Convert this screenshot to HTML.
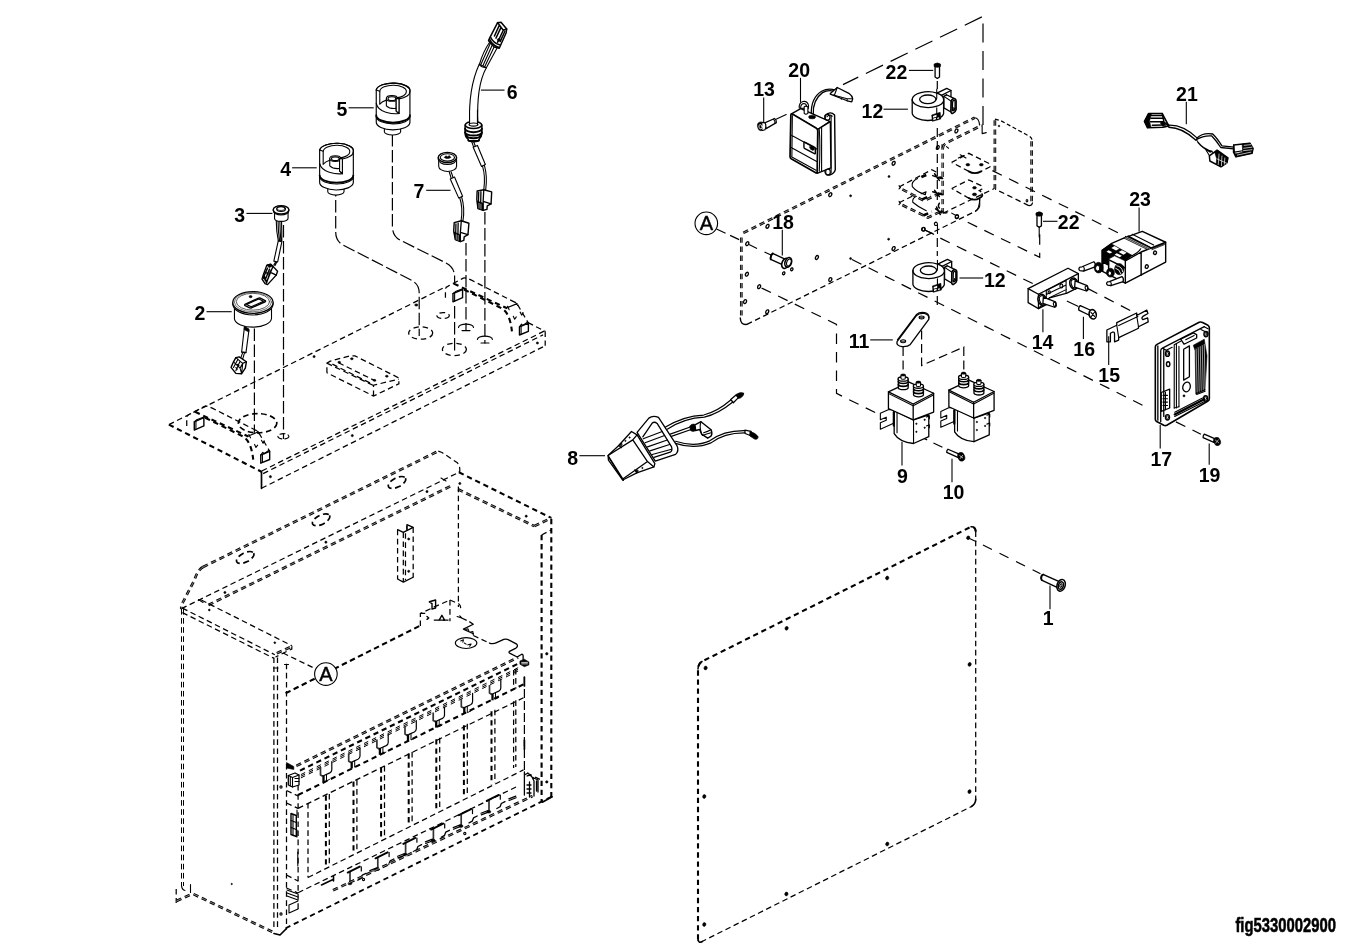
<!DOCTYPE html>
<html><head><meta charset="utf-8">
<style>
html,body{margin:0;padding:0;background:#fff;}
svg{display:block;filter:grayscale(1);}
svg *{vector-effect:non-scaling-stroke;}
.s{fill:none;stroke:#000;stroke-width:1.1;stroke-linecap:round;stroke-linejoin:round;}
.sf{fill:#fff;stroke:#000;stroke-width:1.1;stroke-linecap:round;stroke-linejoin:round;}
.t{fill:none;stroke:#000;stroke-width:1.7;stroke-linecap:round;stroke-linejoin:round;}
.tf{fill:#fff;stroke:#000;stroke-width:1.7;stroke-linecap:round;stroke-linejoin:round;}
.k{fill:#000;stroke:#000;stroke-width:0.6;}
.w{fill:#fff;stroke:none;}
.d{fill:none;stroke:#000;stroke-width:1.25;stroke-dasharray:5.6 3.5;}
.d2{fill:none;stroke:#000;stroke-width:1.25;stroke-dasharray:5.6 3.5;}
.dk{fill:none;stroke:#000;stroke-width:2.1;stroke-dasharray:5.3 3.8;}
.dm{fill:none;stroke:#000;stroke-width:1.7;stroke-dasharray:5.6 3.5;}
.c{fill:none;stroke:#000;stroke-width:1.2;stroke-dasharray:12.5 3.5;}
.c2{fill:none;stroke:#000;stroke-width:1.2;stroke-dasharray:10 8.5;}
.ddb{fill:none;stroke:#000;stroke-width:2.65;stroke-dasharray:5.4 3.7;}
.ddw{fill:none;stroke:#fff;stroke-width:0.5;}
.l{fill:none;stroke:#000;stroke-width:1.1;}
text{font-family:"Liberation Sans",sans-serif;font-weight:bold;font-size:19.5px;fill:#000;text-anchor:middle;}
</style></head><body>
<svg width="1346" height="948" viewBox="0 0 1346 948">
<rect class="w" x="0" y="0" width="1346" height="948"/>
<g id="tray">
<!-- main outline -->
<path class="d" d="M168.9 424.6L446 286.6"/>
<path class="dk" d="M168.9 424.6L261.5 471.8"/>
<path class="t" d="M261.5 471.8V488.3"/>
<path class="d2" d="M261.8 471L545.2 330.6M263.1 473.6L543 334.9"/>
<path class="d" d="M261.5 488.3L545.2 345.7"/>
<path class="d2" d="M545.2 331.3V345.7"/>
<path class="d" d="M528 322.6L545.2 331.3"/>
<circle class="k" cx="270.4" cy="476.7" r="1.1"/>
<circle class="k" cx="352.3" cy="435.6" r="1.1"/>
<circle class="k" cx="537.4" cy="343" r="1.1"/>
<circle class="k" cx="314.1" cy="356.6" r="1.1"/>
<ellipse class="k" cx="416.3" cy="305" rx="1.6" ry="1.1"/>
<!-- holes -->
<ellipse class="dm" cx="257.6" cy="423.2" rx="19.2" ry="9.6"/>
<ellipse class="s" cx="283.4" cy="436.3" rx="5.5" ry="2.7" style="stroke-dasharray:5 3"/>
<ellipse class="d2" cx="443.1" cy="315.5" rx="6.2" ry="3"/>
<ellipse class="dk" cx="420.7" cy="333" rx="12" ry="6.2" style="stroke-width:1.3"/>
<ellipse class="dk" cx="454.4" cy="349.4" rx="12" ry="6.2" style="stroke-width:1.3"/>
<path class="s" d="M458.5 327.5A7.5 3.4 0 0 1 473.5 327.5M462 330.6H470"/>
<path class="s" d="M477.4 339.5A7.5 3.4 0 0 1 492.4 339.5M481 343H489"/>
<!-- centre block -->
<g transform="translate(270 320) scale(0.1371)">
<path class="d2" d="M415 385V315L440 300L580 262H620L935 420L940 440V465L755 555L415 385M755 555V475L940 432M415 315L755 478"/>
<path class="d2" d="M455 322L735 462M500 312L770 445"/>
<ellipse class="k" cx="505" cy="308" rx="10" ry="7"/><ellipse class="k" cx="597" cy="283" rx="10" ry="7"/>
<ellipse class="k" cx="762" cy="440" rx="10" ry="7"/><ellipse class="k" cx="852" cy="410" rx="10" ry="7"/>
</g>
<!-- brackets -->
<g id="brk" transform="translate(160 380) scale(0.1371)">
<path class="d2" d="M195 335V270Q197 258 215 250L325 192Q340 186 385 207L715 375L800 520"/>
<path class="dk" d="M255 232L645 412"/>
<path class="dk" d="M330 275L605 412Q665 445 680 580"/>
<path class="s" d="M640 410L718 378M648 398L660 422M705 368L722 392"/>
<path class="s" d="M740 440L752 462L762 445M690 470L700 492L712 475"/>
<path class="sf" style="stroke-width:1.4" d="M250 305L320 275V335L250 365Z"/><path class="s" d="M250 305L268 290L325 268L320 275M262 300V360"/>
<path class="sf" style="stroke-width:1.4" d="M735 547L800 520V580L735 607Z"/><path class="s" d="M735 547L750 528L760 538L790 515L800 520M747 542V602"/>
</g>
<use href="#brk" x="0" y="0" transform="translate(258.7 -128.2)"/>
<!-- assembly lines -->
<path class="c" d="M254.4 328.5V432.8"/>
<path class="c" d="M283.5 225V439"/>
<path class="c" d="M335.7 184V232Q335.7 241 343 245L411 280Q419.2 284 419.2 293V336"/>
<path class="c" d="M392.4 134V226Q392.4 236 400 240L446 263Q454.6 267.5 454.6 277V282M454.6 306V351"/>
<path class="c" d="M466 243V331"/>
<path class="c" d="M484.9 212V343.5"/>
</g>

<g id="item2" transform="translate(220 280) scale(0.10554)">
<!-- wire -->
<path class="sf" d="M232 440L205 682L246 688L274 478Z"/>
<path class="k" d="M232 440L228 470L272 492L276 465Z"/>
<path class="s" d="M215 688L192 750M232 690L212 760M205 682L246 688"/>
<!-- connector -->
<path class="sf" style="stroke-width:1.4" d="M150 735L182 728L250 775L240 835L205 888L150 885L105 828L128 775Z"/>
<path class="s" d="M150 735L215 790L250 775M215 790L205 888M128 775L190 835L205 888M170 750L128 830M190 770L150 860M190 835L215 790M165 800L180 812M150 830L165 845"/>
<!-- body -->
<path class="sf" d="M137 250V370A176 85 0 0 0 488 365V250Z"/>
<path class="sf" d="M121 228A191 103 0 0 0 503 228V213H121Z"/>
<ellipse class="sf" style="stroke-width:1.3" cx="312" cy="213" rx="191" ry="103"/>
<ellipse class="s" style="stroke-width:0.7;stroke:#444" cx="312" cy="209" rx="176" ry="92"/>
<ellipse class="s" style="stroke-width:0.8;stroke:#333" cx="312" cy="206" rx="158" ry="80"/>
<path class="s" style="stroke-width:1.4" d="M236 232L366 172Q374 168 382 172L428 196Q436 201 428 206L298 264Q290 268 282 263L238 242Q230 237 236 232Z"/>
<path class="s" d="M252 232L368 180L412 201L296 254Z"/>
<ellipse class="k" cx="290" cy="158" rx="14" ry="10"/>
</g>

<g id="item3" transform="translate(250 195) scale(0.10017)">
<path class="s" d="M262 255Q262 360 283 460M280 262Q280 360 296 460M298 268Q300 360 308 460M315 270Q318 370 318 462"/>
<path class="sf" d="M282 458L318 466L276 668L238 660Z"/>
<path class="s" d="M255 668L238 700M268 670L250 705"/>
<path class="sf" style="stroke-width:1.4" d="M168 700L205 690L232 715L275 762L262 800L175 895L150 885L120 840L135 790Z"/>
<path class="s" style="stroke-width:1.4" d="M232 715L200 770L262 800M200 770L165 880M175 730L135 820M195 740L150 850M215 745L170 860M140 800L165 880M150 770L190 790M135 830L160 850"/>
<path class="k" d="M168 700L205 690L225 712L190 725Z"/>
<path class="sf" d="M245 165V235A67 30 0 0 0 380 232V165Z"/>
<path class="sf" d="M232 158A78 42 0 0 0 388 158V148H232Z"/>
<ellipse class="sf" style="stroke-width:1.4" cx="310" cy="148" rx="78" ry="42"/>
<ellipse class="s" cx="310" cy="140" rx="44" ry="24"/>
<ellipse class="s" style="stroke-width:0.8" cx="310" cy="134" rx="40" ry="20"/>
</g>

<g id="knob" transform="translate(360 70) scale(0.07385)">
<path class="sf" d="M330 790V835A110 45 0 0 0 550 835V790Z"/>
<path class="sf" style="stroke-width:1.15" d="M220 270V705A228 103 0 0 0 676 710V290A228 102 0 0 0 220 270Z"/>
<path class="s" style="stroke-width:1.8" d="M220 612A228 100 0 0 0 676 612"/>
<path class="s" d="M220 632A228 100 0 0 0 676 628"/>
<!-- outer top ellipse from left over top to cut -->
<path class="s" style="stroke-width:1.15" d="M220 270A228 102 0 0 1 676 290A228 104 0 0 1 528 391"/>
<!-- inner ellipse -->
<path class="s" d="M268 287A180 85 0 0 1 628 295A180 85 0 0 1 490 378"/>
<path class="s" d="M220 270L268 287V458M490 378L528 391V590L490 556V395"/>
<path class="s" d="M220 452Q240 540 350 572Q450 600 528 590"/>
<path class="s" d="M268 462Q300 425 356 408"/>
<path class="s" d="M357 385V485Q400 528 490 520"/>
<ellipse class="sf" cx="432" cy="385" rx="75" ry="38"/>
<ellipse class="s" cx="432" cy="388" rx="52" ry="25"/>
<path class="w" d="M491 396H527V560H491Z"/>
<path class="s" d="M490 378L528 391V590L490 556Z"/>
</g>
<use href="#knob" transform="translate(-56.6 60.1)"/>

<g id="item6top" transform="translate(440 10) scale(0.12658)">
<path class="s" d="M322 432L398 262M338 442L415 272M352 450L432 282M366 456L452 298M312 428Q340 330 392 255"/>
<path class="sf" d="M235 900Q222 620 310 428L366 456Q285 600 300 900Z"/>
<path class="s" d="M310 428Q318 452 366 456"/>
<path class="sf" style="stroke-width:1.5" d="M392 222L455 100L482 96L527 150L522 182L468 302L428 292L384 242Z"/>
<path class="s" style="stroke-width:1.5" d="M455 100L500 160L527 150M500 160L455 255M470 118L430 205M483 135L442 222M512 170L475 250M400 215Q420 260 470 275M392 232Q415 280 466 296"/>
<path class="k" d="M452 232L470 222L478 240L460 250Z"/>
</g>
<g id="item67" transform="translate(430 110) scale(0.15817)">
<!-- 6 lower -->
<path class="s" d="M262 195L276 235M274 195L288 232"/>
<path class="sf" d="M273 236L300 224L350 345L326 357Z"/>
<path class="s" d="M332 355Q352 420 340 505M344 350Q364 420 352 505"/>
<path class="sf" style="stroke-width:1.4" d="M298 512L340 504L390 518L386 594L362 606L360 628L336 635L303 623L296 566Z"/>
<path class="s" style="stroke-width:1.3" d="M340 504L336 578L386 594M336 578V635M308 520L306 604M322 516L320 612"/>
<path class="k" d="M298 575L336 590V634L304 622Z"/>
<path class="s" style="stroke:#fff;stroke-width:0.6" d="M310 590V620M322 595V625"/>
<path class="sf" style="stroke-width:1.5" d="M222 95V150Q225 175 242 185V195H310V185Q325 175 328 150V95Z"/>
<ellipse class="sf" style="stroke-width:1.6" cx="275" cy="95" rx="52" ry="22"/>
<path class="w" d="M250 0H300V92H250Z"/>
<path class="s" d="M250 0V88M300 0V92"/>
<ellipse class="s" cx="275" cy="92" rx="28" ry="10"/>
<path class="s" style="stroke-width:2" d="M222 118A53 22 0 0 0 328 118M222 140A53 22 0 0 0 328 140M228 162A48 20 0 0 0 322 162"/>
<path class="s" style="stroke-width:1.5" d="M242 188A34 12 0 0 0 310 188"/>
<!-- 7 -->
<path class="s" d="M122 392L134 432M134 392L146 428"/>
<path class="sf" d="M128 436L155 424L206 545L182 557Z"/>
<path class="s" d="M188 555Q210 620 196 705M200 550Q222 620 208 702"/>
<path class="sf" style="stroke-width:1.4" d="M153 712L198 700L246 716L240 788L216 802L214 824L192 832L160 820L150 765Z"/>
<path class="s" style="stroke-width:1.3" d="M198 700L192 774L240 788M192 774V832M164 720L162 802M178 716L176 810"/>
<path class="k" d="M152 772L192 788V831L160 820Z"/>
<path class="s" style="stroke:#fff;stroke-width:0.6" d="M166 788V818M178 793V823"/>
<path class="sf" d="M55 315V355A54 32 0 0 0 168 355V315Z"/>
<path class="sf" d="M52 312A58 32 0 0 0 168 312V300H52Z"/>
<ellipse class="sf" style="stroke-width:1.4" cx="110" cy="300" rx="58" ry="32"/>
<ellipse class="s" cx="110" cy="300" rx="45" ry="23"/>
<path class="k" d="M90 300L100 290L112 296L122 288L132 300L118 306L102 306Z"/>
</g>

<g id="cabinet">
<path class="ddb" d="M203 567L438.3 451.1"/><path class="ddw" d="M203 567L438.3 451.1"/>
<path class="ddb" d="M203 567Q197.5 570 194 581L182.5 603Q181 606 181.3 609"/><path class="ddw" d="M203 567Q197.5 570 194 581L182.5 603Q181 606 181.3 609"/>
<path class="d" d="M438.3 451.1L442 452.5L457 462.5Q460 465 459.8 471L458.9 472.3"/>
<path class="d" d="M181.5 608.6L458.9 472.3"/>
<path class="ddb" d="M208.4 605L453.5 484.8"/><path class="ddw" d="M208.4 605L453.5 484.8"/>
<path class="dk" d="M458.9 472.3L551.3 518"/>
<path class="ddb" d="M458 489.3L534.3 526.1"/><path class="ddw" d="M458 489.3L534.3 526.1"/>
<path class="ddb" d="M534.3 526.1L551.3 518"/><path class="ddw" d="M534.3 526.1L551.3 518"/>
<path class="s" d="M198.5 599.5L203 602.5M441 478L446 481"/>
<ellipse class="dm" style="stroke-dasharray:6 3.5" cx="245.2" cy="557.5" rx="9.5" ry="4.6" transform="rotate(-27 245.2 557.5)"/>
<ellipse class="dm" style="stroke-dasharray:6 3.5" cx="321.1" cy="519.8" rx="9.5" ry="4.6" transform="rotate(-27 321.1 519.8)"/>
<ellipse class="dm" style="stroke-dasharray:6 3.5" cx="397.0" cy="482.5" rx="9.5" ry="4.6" transform="rotate(-27 397.0 482.5)"/>
<circle class="k" cx="224.9" cy="592.5" r="1.1"/>
<circle class="k" cx="325.9" cy="542.2" r="1.1"/>
<circle class="k" cx="427.0" cy="491.6" r="1.1"/>
<circle class="k" cx="459.8" cy="483.5" r="1.1"/>
<circle class="k" cx="526.2" cy="516.2" r="1.1"/>
<path class="dk" d="M551.3 519V797"/>
<path class="dk" d="M541.6 535V802"/>
<path class="d2" d="M541.6 535L551 530"/>
<circle class="k" cx="546.8" cy="653.8" r="1.2"/><circle class="k" cx="546.8" cy="781.9" r="1.2"/>
<path class="d2" d="M458.4 486.6V607"/>
<path class="d2" style="stroke-width:1" d="M181.5 609V886M183.5 609V886"/>
<path class="s" d="M181.5 885.6Q182 890 185 890.5M190.5 884.5V892.5"/>
<path class="d2" d="M182.4 608.1L274.8 654.7M182.4 612.6L273.9 658.3"/>
<path class="d" d="M201.3 600L291.8 645.7"/>
<path class="d2" d="M291.8 645.7V649L275.5 657"/>
<path class="ddb" d="M276.8 653.2L291.8 646.5"/><path class="ddw" d="M276.8 653.2L291.8 646.5"/>
<circle class="k" cx="209.3" cy="610" r="0.9"/><circle class="k" cx="274.8" cy="642.7" r="0.9"/>
<path class="d2" d="M273.9 657.4V927M277.5 657.4V927"/>
<path class="d2" d="M286.5 663.7V929.5"/>
<path class="s" d="M273.5 668H278M284.5 664.5H288.5"/>
<circle class="s" cx="281" cy="787" r="1.1"/><circle class="s" cx="281" cy="914" r="1.1"/>
<path class="dk" style="stroke-dasharray:5.5 3.5" d="M285.6 693.3L421.3 625.1"/>
<path class="d" d="M283 653L318 670"/>
<path class="d2" d="M176.2 889V903"/>
<path class="ddb" d="M176.5 901L193 893.5"/><path class="ddw" d="M176.5 901L193 893.5"/>
<path class="ddb" d="M193.5 894.1L273.7 932.5"/><path class="ddw" d="M193.5 894.1L273.7 932.5"/>
<circle class="k" cx="231.7" cy="884" r="0.7"/>
<path class="dk" style="stroke-width:1.8" d="M285.6 928.2L552.2 796.4"/>
<path class="t" d="M274 933.5L280 935L286 929"/>
<path class="ddb" d="M296.3 765.9L518.1 657.4"/><path class="ddw" d="M296.3 765.9L518.1 657.4"/>
<path class="dk" d="M300 770.6L521.7 661.9"/>
<path class="s" style="stroke-width:1;stroke-linecap:butt" d="M300.9 774.6l4.2 -2.1M300.9 776.2l4.2 -2.1M300.9 777.9l4.2 -2.1"/>
<path class="s" style="stroke-width:1;stroke-linecap:butt" d="M308.8 770.7l4.2 -2.1M308.8 772.4l4.2 -2.1M308.8 774.0l4.2 -2.1"/>
<path class="s" style="stroke-width:1;stroke-linecap:butt" d="M316.7 766.8l4.2 -2.1M316.7 768.5l4.2 -2.1M316.7 770.1l4.2 -2.1"/>
<path class="s" style="stroke-width:1;stroke-linecap:butt" d="M324.6 763.0l4.2 -2.1M324.6 764.6l4.2 -2.1M324.6 766.3l4.2 -2.1"/>
<path class="s" style="stroke-width:1;stroke-linecap:butt" d="M332.5 759.1l4.2 -2.1M332.5 760.7l4.2 -2.1M332.5 762.4l4.2 -2.1"/>
<path class="s" style="stroke-width:1;stroke-linecap:butt" d="M340.3 755.2l4.2 -2.1M340.3 756.8l4.2 -2.1M340.3 758.5l4.2 -2.1"/>
<path class="s" style="stroke-width:1;stroke-linecap:butt" d="M348.2 751.3l4.2 -2.1M348.2 753.0l4.2 -2.1M348.2 754.6l4.2 -2.1"/>
<path class="s" style="stroke-width:1;stroke-linecap:butt" d="M356.1 747.4l4.2 -2.1M356.1 749.1l4.2 -2.1M356.1 750.7l4.2 -2.1"/>
<path class="s" style="stroke-width:1;stroke-linecap:butt" d="M364.0 743.5l4.2 -2.1M364.0 745.2l4.2 -2.1M364.0 746.8l4.2 -2.1"/>
<path class="s" style="stroke-width:1;stroke-linecap:butt" d="M371.9 739.7l4.2 -2.1M371.9 741.3l4.2 -2.1M371.9 743.0l4.2 -2.1"/>
<path class="s" style="stroke-width:1;stroke-linecap:butt" d="M379.8 735.8l4.2 -2.1M379.8 737.4l4.2 -2.1M379.8 739.1l4.2 -2.1"/>
<path class="s" style="stroke-width:1;stroke-linecap:butt" d="M387.7 731.9l4.2 -2.1M387.7 733.6l4.2 -2.1M387.7 735.2l4.2 -2.1"/>
<path class="s" style="stroke-width:1;stroke-linecap:butt" d="M395.6 728.0l4.2 -2.1M395.6 729.7l4.2 -2.1M395.6 731.3l4.2 -2.1"/>
<path class="s" style="stroke-width:1;stroke-linecap:butt" d="M403.5 724.1l4.2 -2.1M403.5 725.8l4.2 -2.1M403.5 727.4l4.2 -2.1"/>
<path class="s" style="stroke-width:1;stroke-linecap:butt" d="M411.3 720.3l4.2 -2.1M411.3 721.9l4.2 -2.1M411.3 723.6l4.2 -2.1"/>
<path class="s" style="stroke-width:1;stroke-linecap:butt" d="M419.2 716.4l4.2 -2.1M419.2 718.0l4.2 -2.1M419.2 719.7l4.2 -2.1"/>
<path class="s" style="stroke-width:1;stroke-linecap:butt" d="M427.1 712.5l4.2 -2.1M427.1 714.1l4.2 -2.1M427.1 715.8l4.2 -2.1"/>
<path class="s" style="stroke-width:1;stroke-linecap:butt" d="M435.0 708.6l4.2 -2.1M435.0 710.3l4.2 -2.1M435.0 711.9l4.2 -2.1"/>
<path class="s" style="stroke-width:1;stroke-linecap:butt" d="M442.9 704.7l4.2 -2.1M442.9 706.4l4.2 -2.1M442.9 708.0l4.2 -2.1"/>
<path class="s" style="stroke-width:1;stroke-linecap:butt" d="M450.8 700.9l4.2 -2.1M450.8 702.5l4.2 -2.1M450.8 704.2l4.2 -2.1"/>
<path class="s" style="stroke-width:1;stroke-linecap:butt" d="M458.7 697.0l4.2 -2.1M458.7 698.6l4.2 -2.1M458.7 700.3l4.2 -2.1"/>
<path class="s" style="stroke-width:1;stroke-linecap:butt" d="M466.6 693.1l4.2 -2.1M466.6 694.7l4.2 -2.1M466.6 696.4l4.2 -2.1"/>
<path class="s" style="stroke-width:1;stroke-linecap:butt" d="M474.5 689.2l4.2 -2.1M474.5 690.9l4.2 -2.1M474.5 692.5l4.2 -2.1"/>
<path class="s" style="stroke-width:1;stroke-linecap:butt" d="M482.3 685.3l4.2 -2.1M482.3 687.0l4.2 -2.1M482.3 688.6l4.2 -2.1"/>
<path class="s" style="stroke-width:1;stroke-linecap:butt" d="M490.2 681.4l4.2 -2.1M490.2 683.1l4.2 -2.1M490.2 684.7l4.2 -2.1"/>
<path class="s" style="stroke-width:1;stroke-linecap:butt" d="M498.1 677.6l4.2 -2.1M498.1 679.2l4.2 -2.1M498.1 680.9l4.2 -2.1"/>
<path class="s" style="stroke-width:1;stroke-linecap:butt" d="M506.0 673.7l4.2 -2.1M506.0 675.3l4.2 -2.1M506.0 677.0l4.2 -2.1"/>
<path class="s" style="stroke-width:1;stroke-linecap:butt" d="M513.9 669.8l4.2 -2.1M513.9 671.4l4.2 -2.1M513.9 673.1l4.2 -2.1"/>
<path class="dk" d="M298.1 795L523.5 684.3"/>
<path class="d" d="M298.1 808.4L523.5 697.8"/>
<path class="s" style="stroke-width:1.2" d="M500.8 679.7V687.9Q500.8 690.1 498.8 691.1L493.5 693.5"/>
<path class="s" style="stroke-width:1.7;stroke:#333;stroke-linecap:butt" d="M489.5 685.1V693.1L491.8 694.5"/>
<path class="s" style="stroke-width:2.3;stroke-linecap:butt" d="M492.5 693.3V700.3"/>
<path class="s" style="stroke-width:1" d="M495.5 692.9V699.1L498.5 697.6"/>
<path class="s" style="stroke-width:1.2" d="M472.6 693.3V701.5Q472.6 703.7 470.6 704.7L465.3 707.1"/>
<path class="s" style="stroke-width:1.7;stroke:#333;stroke-linecap:butt" d="M461.3 698.7V706.7L463.6 708.1"/>
<path class="s" style="stroke-width:2.3;stroke-linecap:butt" d="M464.3 706.9V713.9"/>
<path class="s" style="stroke-width:1" d="M467.3 706.5V712.7L470.3 711.2"/>
<path class="s" style="stroke-width:1.2" d="M444.5 707.0V715.2Q444.5 717.4 442.5 718.4L437.2 720.8"/>
<path class="s" style="stroke-width:1.7;stroke:#333;stroke-linecap:butt" d="M433.2 712.4V720.4L435.5 721.8"/>
<path class="s" style="stroke-width:2.3;stroke-linecap:butt" d="M436.2 720.6V727.6"/>
<path class="s" style="stroke-width:1" d="M439.2 720.2V726.4L442.2 724.9"/>
<path class="s" style="stroke-width:1.2" d="M416.3 720.6V728.8Q416.3 731.0 414.3 732.0L409.0 734.4"/>
<path class="s" style="stroke-width:1.7;stroke:#333;stroke-linecap:butt" d="M405.0 726.0V734.0L407.3 735.4"/>
<path class="s" style="stroke-width:2.3;stroke-linecap:butt" d="M408.0 734.2V741.2"/>
<path class="s" style="stroke-width:1" d="M411.0 733.8V740.0L414.0 738.5"/>
<path class="s" style="stroke-width:1.2" d="M388.2 734.2V742.4Q388.2 744.6 386.2 745.6L380.9 748.0"/>
<path class="s" style="stroke-width:1.7;stroke:#333;stroke-linecap:butt" d="M376.9 739.6V747.6L379.2 749.0"/>
<path class="s" style="stroke-width:2.3;stroke-linecap:butt" d="M379.9 747.8V754.8"/>
<path class="s" style="stroke-width:1" d="M382.9 747.4V753.6L385.9 752.1"/>
<path class="s" style="stroke-width:1.2" d="M360.0 747.9V756.1Q360.0 758.2 358.0 759.2L352.7 761.6"/>
<path class="s" style="stroke-width:1.7;stroke:#333;stroke-linecap:butt" d="M348.7 753.2V761.2L351.0 762.6"/>
<path class="s" style="stroke-width:2.3;stroke-linecap:butt" d="M351.7 761.5V768.5"/>
<path class="s" style="stroke-width:1" d="M354.7 761.1V767.2L357.7 765.8"/>
<path class="s" style="stroke-width:1.2" d="M331.8 761.5V769.7Q331.8 771.9 329.8 772.9L324.5 775.3"/>
<path class="s" style="stroke-width:1.7;stroke:#333;stroke-linecap:butt" d="M320.5 766.9V774.9L322.8 776.3"/>
<path class="s" style="stroke-width:2.3;stroke-linecap:butt" d="M323.5 775.1V782.1"/>
<path class="s" style="stroke-width:1" d="M326.5 774.7V780.9L329.5 779.4"/>
<path class="dk" style="stroke-width:2" d="M491.5 711.2V784.2"/>
<path class="d2" d="M494.9 709.7V782.7"/>
<path class="dk" style="stroke-width:2" d="M463.9 725.2V798.1"/>
<path class="d2" d="M467.3 723.8V796.6"/>
<path class="dk" style="stroke-width:2" d="M436.3 739.3V812.0"/>
<path class="d2" d="M439.7 737.8V810.5"/>
<path class="dk" style="stroke-width:2" d="M408.7 753.4V825.9"/>
<path class="d2" d="M412.1 751.9V824.4"/>
<path class="dk" style="stroke-width:2" d="M381.1 767.4V839.8"/>
<path class="d2" d="M384.5 765.9V838.3"/>
<path class="dk" style="stroke-width:2" d="M353.5 781.5V853.7"/>
<path class="d2" d="M356.9 780.0V852.2"/>
<path class="dk" style="stroke-width:2" d="M325.9 795.5V867.6"/>
<path class="d2" d="M329.3 794.0V866.1"/>
<path class="d2" d="M513.6 670V689.7M515.8 669V688.7M513.6 701.3V768M515.8 700.3V767"/>
<path class="c" style="stroke-dasharray:9 3" d="M524.4 677V772"/>
<path class="t" d="M524.4 677V686M524.4 740V749"/>
<path class="d" d="M308 877.5L523.5 769.9"/>
<path class="d" d="M298.1 892.7L518.1 786"/>
<path class="t" style="stroke-width:1.6" d="M321.5 885L333 879.5M333.5 876.5V881"/>
<path class="s" style="stroke-width:1.7;stroke:#333;stroke-linecap:butt" d="M489.0 811.5V800.0"/>
<path class="s" style="stroke-width:1.9" d="M486.7 800.9L498.8 794.9"/>
<path class="s" style="stroke-width:1.2" d="M500.3 795.1V799.2"/>
<path class="s" style="stroke-width:1.3" d="M496.8 808.5L500.1 806.7L501.3 803.5L505.0 801.6"/>
<path class="s" style="stroke-width:1.2" d="M508.8 798.9L515.8 796.1M509.1 800.5L516.1 797.7"/>
<ellipse class="k" cx="488.8" cy="811.8" rx="2" ry="1.3"/>
<path class="s" style="stroke-width:1.7;stroke:#333;stroke-linecap:butt" d="M461.2 825.9V814.4"/>
<path class="s" style="stroke-width:1.9" d="M458.9 815.2L471.0 809.2"/>
<path class="s" style="stroke-width:1.2" d="M472.5 809.5V813.6"/>
<path class="s" style="stroke-width:1.3" d="M469.0 822.9L472.3 821.1L473.5 817.9L477.2 816.0"/>
<path class="s" style="stroke-width:1.2" d="M481.0 813.2L488.0 810.5M481.3 814.9L488.3 812.1"/>
<ellipse class="k" cx="461.0" cy="826.1" rx="2" ry="1.3"/>
<path class="s" style="stroke-width:1.7;stroke:#333;stroke-linecap:butt" d="M433.4 840.2V828.7"/>
<path class="s" style="stroke-width:1.9" d="M431.1 829.6L443.2 823.6"/>
<path class="s" style="stroke-width:1.2" d="M444.7 823.8V827.9"/>
<path class="s" style="stroke-width:1.3" d="M441.2 837.2L444.5 835.4L445.7 832.2L449.4 830.3"/>
<path class="s" style="stroke-width:1.2" d="M453.2 827.6L460.2 824.8M453.5 829.2L460.5 826.4"/>
<ellipse class="k" cx="433.2" cy="840.5" rx="2" ry="1.3"/>
<path class="s" style="stroke-width:1.7;stroke:#333;stroke-linecap:butt" d="M405.6 854.5V843.0"/>
<path class="s" style="stroke-width:1.9" d="M403.3 843.9L415.4 837.9"/>
<path class="s" style="stroke-width:1.2" d="M416.9 838.1V842.2"/>
<path class="s" style="stroke-width:1.3" d="M413.4 851.5L416.7 849.8L417.9 846.5L421.6 844.6"/>
<path class="s" style="stroke-width:1.2" d="M425.4 841.9L432.4 839.1M425.7 843.5L432.7 840.8"/>
<ellipse class="k" cx="405.4" cy="854.8" rx="2" ry="1.3"/>
<path class="s" style="stroke-width:1.7;stroke:#333;stroke-linecap:butt" d="M377.8 868.9V857.4"/>
<path class="s" style="stroke-width:1.9" d="M375.5 858.3L387.6 852.3"/>
<path class="s" style="stroke-width:1.2" d="M389.1 852.5V856.6"/>
<path class="s" style="stroke-width:1.3" d="M385.6 865.9L388.9 864.1L390.1 860.9L393.8 859.0"/>
<path class="s" style="stroke-width:1.2" d="M397.6 856.3L404.6 853.5M397.9 857.9L404.9 855.1"/>
<ellipse class="k" cx="377.6" cy="869.2" rx="2" ry="1.3"/>
<path class="s" style="stroke-width:1.7;stroke:#333;stroke-linecap:butt" d="M350.0 883.2V871.8"/>
<path class="s" style="stroke-width:1.9" d="M347.7 872.6L359.8 866.6"/>
<path class="s" style="stroke-width:1.2" d="M361.3 866.9V871.0"/>
<path class="s" style="stroke-width:1.3" d="M357.8 880.2L361.1 878.5L362.3 875.2L366.0 873.4"/>
<path class="s" style="stroke-width:1.2" d="M369.8 870.6L376.8 867.9M370.1 872.2L377.1 869.5"/>
<ellipse class="k" cx="349.8" cy="883.5" rx="2" ry="1.3"/>
<path class="ddb" d="M333 890.3L532.5 796.1"/><path class="ddw" d="M333 890.3L532.5 796.1"/>
<circle class="s" cx="464.8" cy="833.5" r="1.1"/><circle class="s" cx="363.5" cy="879.5" r="1.1"/>
<path class="d2" d="M298.1 785V909"/>
<path class="d2" d="M308 803V877.5"/>
<path class="d2" d="M286.5 790.5L298.1 796M286.5 803L298.1 808.4M286.5 875L298.1 881M286.5 888L298.1 893"/>
<path class="k" d="M286.5 762.5L293.8 766.5L293.8 769.5L286.5 768Z"/>
<path class="sf" style="stroke-width:1.3" d="M288.3 775.5L295 773L299 775V785L292.5 787L288.3 785Z"/><path class="s" d="M288.3 775.5L292.5 777.5L299 775M292.5 777.5V787M290.3 776.5V786M295 778.5H299M295 781.5H299"/>
<path class="sf" style="stroke-width:1.4" d="M291 813.5L296.3 815.5V836.5L291 834.5Z"/><path class="s" d="M291 820.5L296.3 822.5M291 827.5L296.3 829.5M293 814.5V835.5"/>
<path class="s" d="M297.8 852V866M297 810V815M297 830V837"/>
<path class="s" d="M287 890L298 894M287 893L298 897M287 896L298 900M289 905L298 901M289 905V913L298 909"/>
<path class="s" style="stroke-width:1.3" d="M524.4 772V795M527 776Q530 774 532 777L534 781V796M529.5 782V797M527 785H531M527 789H531M527 793H531M532 777L538 780V792M536.5 781V791M524.4 775L528 773"/>
<path class="dk" style="stroke-width:1.3" d="M527 773L541 780"/>
<path class="t" d="M542.3 802.2L552.2 796.8"/>
</g>

<g id="uchan" transform="translate(380 440) scale(0.17937)">
<path class="d2" d="M98 500V775M130 515V790M185 487V765M150 478V500"/>
<path class="s" style="stroke-width:1.3" d="M98 500L130 515L185 487L150 472V498M98 775L130 792L185 765"/>
<path class="d2" d="M142 520V780"/>
<circle class="k" cx="160" cy="552" r="6"/><circle class="k" cx="160" cy="732" r="6"/>
</g>
<g id="cabstep" transform="translate(380 600) scale(0.17937)">
<path class="d2" d="M225 145V75L300 40M390 0V118M300 112H390M225 75H252M300 40L390 0"/>
<path class="s" style="stroke-width:1.4" d="M275 10L310 0V45L290 50V20ZM345 85L360 112H330ZM262 92L272 100L262 108"/>
<path class="d2" d="M390 0L440 22Q452 30 450 60"/>
<path class="s" d="M430 92L455 100L445 88"/>
<path class="d2" d="M455 100L500 122"/>
<path class="s" style="stroke-width:1.3" d="M500 122L520 135L465 162L520 188"/>
<path class="s" d="M478 165L490 160L495 172M505 178L518 176L520 195"/>
<path class="d2" d="M520 198L610 240"/>
<path class="s" style="stroke-width:1.3" d="M610 240Q630 248 650 238L690 220Q705 215 720 224L762 246Q772 258 758 268L722 286Q715 292 725 298L765 318L785 305Q795 298 798 310V340"/>
<ellipse class="s" cx="480" cy="240" rx="60" ry="30"/>
<path class="s" d="M450 228L465 222L462 235M490 250L508 245L500 258M470 240L480 246"/>
<path class="k" d="M780 340L805 330L830 345V362L805 372L780 358Z"/>
<path class="s" style="stroke:#fff;stroke-width:0.8" d="M790 348H822M790 356H822"/>
</g>

<g transform="translate(590 380) scale(0.13373)">
<!-- wires -->
<path class="s" style="stroke-width:1.2" d="M565 352Q700 268 850 262Q950 238 1055 148M578 368Q705 285 855 278Q958 255 1068 165"/>
<path class="s" style="stroke-width:1.2" d="M600 405L755 350M608 422L762 368"/>
<path class="s" style="stroke-width:1.2" d="M640 458Q780 505 895 455Q1000 375 1160 378M632 472Q780 522 905 470Q1005 392 1165 395"/>
<path class="sf" style="stroke-width:1.3" d="M1052 145L1092 112L1110 132L1072 170Z"/>
<path class="k" d="M1092 108Q1125 85 1150 98Q1155 115 1125 135L1108 138Z"/>
<path class="sf" style="stroke-width:1.3" d="M1158 375L1205 385L1198 415L1160 400Z"/>
<path class="k" d="M1195 385Q1240 395 1258 425Q1255 450 1230 442L1195 418Z"/>
<path class="k" d="M745 345Q760 325 782 330L790 378Q770 392 752 378Z"/>
<path class="sf" style="stroke-width:1.4" d="M785 335L830 312L905 372Q918 400 905 420L880 435L835 405L820 370L790 378Z"/>
<path class="s" d="M830 312Q815 345 835 405M850 395Q880 385 905 372M840 415Q872 405 905 395"/>
<!-- loop handle -->
<path class="sf" style="stroke-width:1.3" d="M352 392L440 285Q470 262 512 280L650 490Q668 530 640 556L488 606Z"/>
<path class="s" style="stroke-width:1.3" d="M395 425L465 322Q482 308 502 325L610 500Q618 530 600 540L478 578"/>
<path class="s" d="M398 440L540 385M412 470L558 415M430 500L578 448M448 530L595 482M465 557L610 518"/>
<!-- block -->
<path class="sf" style="stroke-width:1.3" d="M135 565L215 490L310 385L352 410L485 625L478 650L350 695L245 748L138 600Z"/>
<path class="s" style="stroke-width:1.3" d="M135 565L320 448L430 610L245 740L135 565M245 740L250 750M320 448L352 410M430 610L478 650M215 490L235 505M350 695L335 672"/>
<path class="s" d="M140 580L245 748"/>
<circle class="s" cx="232" cy="482" r="7"/><circle class="k" cx="265" cy="455" r="5"/><circle class="k" cx="296" cy="430" r="5"/>
<circle class="s" cx="352" cy="680" r="7"/><circle class="k" cx="392" cy="658" r="5"/>
</g>

<g id="panelA">
<!-- phantom plane -->
<path class="c" style="stroke-dasharray:19 8.5" d="M983 125V16.3L843 84.6"/>
<!-- plate -->
<path class="ddb" d="M743.3 232.9L974.6 117.8"/><path class="ddw" d="M743.3 232.9L974.6 117.8"/>
<path class="ddb" d="M741.3 237.4V318"/><path class="ddw" d="M741.3 237.4V318"/>
<path class="s" style="stroke-width:1.4" d="M740.3 318Q740.5 325.5 746.9 324.4"/>
<path class="d" d="M746.9 324.4L975.5 211.2"/>
<path class="s" d="M975.5 211.2Q979.5 208.5 979.7 199"/>
<!-- plate holes -->
<g class="s" style="stroke-width:1.3">
<ellipse cx="747.3" cy="243.7" rx="1.35" ry="2.05" transform="rotate(25 747.3 243.7)"/>
<ellipse cx="767.5" cy="226.3" rx="1.35" ry="2.05" transform="rotate(25 767.5 226.3)"/>
<ellipse cx="746.9" cy="274.2" rx="1.35" ry="2.05" transform="rotate(25 746.9 274.2)"/>
<ellipse cx="759.1" cy="286.7" rx="1.35" ry="2.05" transform="rotate(25 759.1 286.7)"/>
<ellipse cx="745.1" cy="301.6" rx="1.35" ry="2.05" transform="rotate(25 745.1 301.6)"/>
<ellipse cx="767.2" cy="311.8" rx="1.35" ry="2.05" transform="rotate(25 767.2 311.8)"/>
<ellipse cx="816.9" cy="257.5" rx="1.35" ry="2.05" transform="rotate(25 816.9 257.5)"/>
<ellipse cx="830.3" cy="279.6" rx="1.35" ry="2.05" transform="rotate(25 830.3 279.6)"/>
<ellipse cx="830.3" cy="194.7" rx="1.35" ry="2.05" transform="rotate(25 830.3 194.7)"/>
<ellipse cx="893.6" cy="248.5" rx="1.35" ry="2.05" transform="rotate(25 893.6 248.5)"/>
<ellipse cx="923.6" cy="229.3" rx="1.5" ry="1.9" transform="rotate(25 923.6 229.3)"/>
<ellipse cx="956.9" cy="216.6" rx="1.5" ry="1.9" transform="rotate(25 956.9 216.6)"/>
<ellipse cx="783.7" cy="273.3" rx="1.1" ry="1.5" transform="rotate(25 783.7 273.3)"/>
<ellipse cx="791.8" cy="269.3" rx="1.1" ry="1.5" transform="rotate(25 791.8 269.3)"/>
<ellipse cx="893.6" cy="163.3" rx="1.35" ry="2.05" transform="rotate(25 893.6 163.3)"/>
<ellipse cx="956.4" cy="131" rx="1.35" ry="2.05" transform="rotate(25 956.4 131)"/>
<ellipse cx="937.8" cy="147.5" rx="1.3" ry="2" transform="rotate(25 937.8 147.5)"/>
</g>
<circle class="k" cx="850.6" cy="195.8" r="1"/><circle class="k" cx="888.6" cy="239.2" r="1"/><circle class="k" cx="850.6" cy="258.6" r="1"/><circle class="k" cx="889" cy="176.5" r="1"/>
<!-- bracket details -->
<g transform="translate(890 150) scale(0.09494)">
<path class="ddb" style="stroke:#222" d="M555 -60V680"/><path class="ddw" d="M555 -60V680"/>
<path class="d" d="M560 665L1100 405"/>
<path class="s" d="M945 510V590Q940 622 900 645"/>
<path class="d" d="M650 130L830 35L1050 145Q1072 165 1045 182L960 225M830 225L650 130"/>
<path class="s" style="stroke-width:1.8" d="M830 225Q890 262 960 225"/>
<ellipse class="k" cx="820" cy="155" rx="20" ry="13"/><ellipse class="k" cx="962" cy="155" rx="20" ry="13"/>
<path class="s" d="M740 50L800 85M720 85L775 58"/>
<path class="d" d="M650 405L830 315L960 375Q985 392 968 412L940 428Q985 450 970 480M835 510L650 405"/>
<path class="s" style="stroke-width:1.8" d="M830 505Q890 542 945 505Q980 490 970 465"/>
<ellipse class="k" cx="890" cy="398" rx="20" ry="13"/><ellipse class="k" cx="890" cy="468" rx="22" ry="14"/>
<circle class="s" cx="705" cy="702" r="18"/><path class="s" d="M650 665L690 688"/>
<!-- left stacked plates -->
<path class="d" d="M95 390L440 208L500 238M95 555L270 470"/>
<path class="ddb" d="M130 415L360 535L540 447"/><path class="ddw" d="M130 415L360 535L540 447"/>
<path class="ddb" d="M130 580L400 712L545 642"/><path class="ddw" d="M130 580L400 712L545 642"/>
<path class="s" d="M95 375L110 395L95 410M95 540L110 560L95 575"/>
<path class="s" d="M235 385Q222 330 290 300M235 385Q280 440 372 470M240 550Q232 510 278 488M240 550Q300 602 382 640"/>
<path class="ddb" style="stroke-width:2.6" d="M330 285L400 255M340 520L430 480M350 690L440 650"/>
<path class="s" style="stroke-width:1.5" d="M450 270L540 300M470 250L520 320M500 300Q530 270 555 300M450 440L540 470M470 425L520 490M500 470Q530 440 555 470M480 620L540 660M490 600L530 680M520 560Q500 590 520 610M540 640Q570 670 600 660"/>
<path class="s" d="M330 460L380 440L370 470"/>
<!-- hook & hole -->
<path class="s" d="M500 880V790Q500 758 480 760Q462 768 470 788Q482 802 498 790"/>
<circle class="s" cx="350" cy="835" r="18"/><path class="s" d="M370 845L460 888"/>
</g>
<!-- top right corner of plate / L bracket top -->
<g transform="translate(880 100) scale(0.1371)">
<path class="s" d="M690 130Q722 132 726 182M745 180V245L775 238"/>
<path class="ddb" d="M458 352Q458 325 490 310L740 186"/><path class="ddw" d="M458 352Q458 325 490 310L740 186"/>
<path class="s" d="M485 340L500 352"/>
<!-- side plate -->
<path class="ddb" d="M838 148V650"/><path class="ddw" d="M838 148V650"/>
<path class="d2" style="stroke-dasharray:4 2.5" d="M838 140L880 150L1085 262Q1110 275 1110 300"/>
<path class="ddb" d="M1106 300V750"/><path class="ddw" d="M1106 300V750"/>
<path class="s" d="M1112 750Q1108 772 1085 770"/>
<path class="d" d="M1085 770L840 650"/>
<circle class="k" cx="868" cy="190" r="6"/><ellipse class="s" cx="1072" cy="735" rx="6" ry="9"/>
</g>
<!-- assembly lines -->
<path class="c" style="stroke-dasharray:10 5" d="M716.5 229L741 240.5M749 244.5L757 248.5M764.5 252L771 255"/>
<path class="c" style="stroke-dasharray:10.5 8" d="M761.5 288L836.5 324.4V393.4L879.3 414.6"/>
<path class="c" style="stroke-dasharray:10.5 8" d="M852 259.5L1148 408"/>
<path class="s" d="M925.3 230.3L932.8 233.6"/>
<path class="c" style="stroke-dasharray:10.5 8" d="M940.3 238.1L1033.6 284"/>
<path class="c" style="stroke-dasharray:10.5 8" d="M967.7 222.3L1039.7 257.3V232"/>
<path class="c" style="stroke-dasharray:10.5 8" d="M992.4 170.6L1126.4 236.9"/>
<path class="c" style="stroke-dasharray:10.5 8" d="M1088 288.6L1133.7 312.3"/>
<path class="c" style="stroke-dasharray:9 4" d="M937.3 81V89M937.3 128V200M937.3 238V256M937.3 296V305"/>
<path class="c" style="stroke-dasharray:9 4.5" d="M903.1 347V374.4M921.6 330.5V365.5L963.8 347V373.5"/>
<path class="c" style="stroke-dasharray:10 7" d="M902.8 428.2L945.8 448.9"/>
</g>

<g id="item20" transform="translate(745 75) scale(0.11605)">
<!-- cable -->
<path class="s" style="stroke-width:1.3" d="M572 340Q565 200 660 140Q715 110 775 128M588 340Q582 215 668 152Q715 125 765 140"/>
<!-- plug -->
<path class="sf" style="stroke-width:1.3" d="M735 160L795 108L895 158Q925 180 928 205L920 232L880 222L735 165Z"/>
<path class="s" d="M795 108L770 175M760 172L880 205L925 205M880 205V222M830 190V208"/>
<!-- ear top-left -->
<path class="sf" d="M468 285Q462 240 500 228Q540 222 548 265L545 290Z"/>
<path class="s" d="M480 280Q480 250 505 245Q530 245 532 275"/>
<!-- body: right ear/flange -->
<path class="sf" style="stroke-width:1.4" d="M690 350Q735 305 772 345L778 815Q772 848 728 862Q700 868 690 838Z"/>
<path class="s" d="M705 360Q730 335 752 355M742 350V842M700 840Q715 852 735 845"/>
<!-- top face -->
<path class="sf" style="stroke-width:1.3" d="M400 335L480 290L730 400L628 468Z"/>
<!-- side face -->
<path class="sf" style="stroke-width:1.3" d="M627 470L735 402L740 800L622 848Z"/>
<path class="s" d="M660 452V828M640 470Q650 600 640 830"/>
<!-- front face -->
<path class="sf" style="stroke-width:1.7" d="M395 350Q394 328 412 338L612 456Q628 466 627 484L622 830Q622 850 606 840L398 722Q388 716 388 702Z"/>
<path class="s" d="M408 350L404 700M400 520L622 640M398 625L618 745M400 705L612 820"/>
<path class="s" style="stroke-width:1.4" d="M515 578Q508 574 508 584V622Q508 630 516 634L598 678Q606 682 606 674V634Q606 626 598 622Z"/>
<path class="k" d="M555 618L575 612L590 625L600 640L585 650L565 640Z"/>
<!-- post and button -->
<path class="sf" d="M510 275V330Q525 345 542 330V275Q525 262 510 275Z"/>
<ellipse class="k" cx="578" cy="362" rx="30" ry="16"/>
<ellipse class="s" cx="710" cy="365" rx="22" ry="26"/>
<ellipse class="sf" cx="715" cy="835" rx="20" ry="24"/>
<!-- bolt 13 -->
<path class="sf" style="stroke-width:1.3" d="M165 415L255 375Q272 385 270 410L182 462Z"/>
<path class="s" d="M245 380Q262 395 258 418"/>
<ellipse class="k" cx="138" cy="442" rx="30" ry="38" transform="rotate(-15 138 442)"/>
<ellipse class="s" style="stroke:#fff;stroke-width:0.8" cx="134" cy="446" rx="14" ry="19" transform="rotate(-15 134 446)"/>
<path class="sf" style="stroke-width:1.2" d="M150 408L172 412Q188 440 172 472L150 478"/>
<path class="s" d="M272 380L355 340"/>
</g>

<g id="ring12" transform="translate(905 250) scale(0.05275)">
<!-- tab -->
<path class="sf" style="stroke-width:1.3" d="M620 268L805 178L885 218V340L745 420L705 310Z"/>
<path class="s" style="stroke-width:1.3" d="M705 310L885 218"/>
<!-- connector -->
<path class="sf" style="stroke-width:1.3" d="M750 330L800 298L940 368L895 425L885 625L750 548Z"/>
<path class="s" d="M750 330L892 422M800 298L790 318"/>
<path class="sf" style="stroke-width:1.6" d="M888 430Q892 388 935 370Q978 372 982 412V575Q976 622 920 652Q888 656 885 620Z"/>
<path class="s" style="stroke-width:1.3" d="M914 448Q918 410 940 400Q962 404 963 432V560Q958 592 925 606Q912 606 912 586Z"/>
<path class="s" d="M912 586L940 570L963 560M940 570V540"/>
<!-- body -->
<path class="sf" style="stroke-width:1.3" d="M150 385V650A300 150 0 0 0 745 660V400A300 150 0 0 0 620 268A300 150 0 0 0 150 385Z"/>
<path class="s" style="stroke-width:1.3" d="M150 385A300 150 0 0 0 742 425"/>
<ellipse class="s" style="stroke-width:1.3" cx="445" cy="385" rx="155" ry="82"/>
<path class="s" d="M615 195V365Q612 398 592 402M615 548V690"/>
<!-- clip -->
<path class="k" d="M520 682L680 632L690 760L532 802Z"/>
<path class="w" d="M545 700L610 680V715L545 735ZM550 750L600 735V765L550 780ZM625 735L660 725V750L625 760Z"/>
</g>
<use href="#ring12" transform="translate(-0.7 -171)"/>

<g transform="translate(840 300) scale(0.17937)">
<!-- item 11 -->
<path class="sf" style="stroke-width:1.3" d="M318 232L425 88Q440 72 470 75Q500 82 495 108L392 248Q378 262 346 260Q312 254 318 232Z"/>
<path class="s" d="M320 222L427 80Q442 66 472 70Q498 76 496 100"/>
<ellipse class="s" cx="352" cy="230" rx="14" ry="8"/><ellipse class="s" cx="455" cy="97" rx="14" ry="8"/>
<path class="s" style="stroke-width:0.8" d="M340 230H364M443 97H467"/>
<!-- contactor -->
<g id="cont">
<path class="sf" d="M272 610L225 632V668L258 653V670L225 685V720L302 686V612Z"/>
<path class="sf" style="stroke-width:1.3" d="M302 615V745Q330 792 410 800L495 762V640L410 668Z"/>
<path class="s" d="M410 668V800M318 620V740"/>
<path class="s" style="stroke-width:2.2" d="M300 625V700"/>
<circle class="k" cx="426" cy="690" r="4"/><circle class="k" cx="426" cy="735" r="4"/><circle class="k" cx="472" cy="668" r="4"/><circle class="k" cx="472" cy="712" r="4"/>
<path class="s" d="M482 652L498 646V662M482 702L498 696V712"/>
<path class="sf" style="stroke-width:1.3" d="M270 512L385 458L522 520V625L408 668L270 605Z"/>
<path class="s" style="stroke-width:1.3" d="M270 512L408 580L522 520M408 580V668"/>
<path class="s" d="M272 522L408 590L520 530"/>
<g id="stud">
<path class="sf" style="stroke-width:1.3" d="M325 440V490A28 12 0 0 0 380 490V440Z"/>
<ellipse class="sf" style="stroke-width:1.3" cx="352" cy="440" rx="28" ry="12"/>
<path class="s" style="stroke-width:1.6" d="M325 456A28 12 0 0 0 380 456M325 472A28 12 0 0 0 380 472"/>
<path class="sf" d="M340 418V436A12 6 0 0 0 364 436V418Z"/><ellipse class="k" cx="352" cy="418" rx="12" ry="6"/>
</g>
<use href="#stud" transform="translate(85 40)"/>
</g>
<use href="#cont" transform="translate(337 -10)"/>
<!-- bolt 10 -->
<path class="sf" style="stroke-width:1.3" d="M602 832L668 861L660 879L595 850Q594 838 602 832Z"/>
<ellipse class="k" cx="676" cy="874" rx="19" ry="25" transform="rotate(-20 676 874)"/>
<path class="s" style="stroke:#fff;stroke-width:0.7" d="M668 868L684 880M684 866L670 884"/>
</g>

<g transform="translate(1020 200) scale(0.14773)">
<!-- bolt 22 right -->
<g id="bolt22">
<path class="sf" style="stroke-width:1.3" d="M115 105V175L130 185L145 175V105Z"/>
<path class="k" d="M108 88Q130 72 152 88V104Q130 114 108 104Z"/>
</g>
<path class="s" d="M130 185V250"/>
<!-- item 14 -->
<path class="sf" style="stroke-width:1.3" d="M55 600L325 462L395 498V592L318 630L200 662L125 735L55 695Z"/>
<path class="s" style="stroke-width:1.3" d="M55 600L125 638L395 498M125 638V735M125 735L178 708"/>
<path class="s" d="M178 612V708M178 640L312 575V540M312 575V630M200 662L315 605M178 612L312 545"/>
<ellipse class="s" cx="280" cy="582" rx="10" ry="14"/>
<ellipse class="s" cx="198" cy="625" rx="8" ry="10"/>
<g id="stud14">
<ellipse class="sf" style="stroke-width:1.5" cx="150" cy="676" rx="28" ry="38" transform="rotate(-15 150 676)"/>
<ellipse class="s" cx="152" cy="676" rx="20" ry="29" transform="rotate(-15 152 676)"/>
<path class="sf" style="stroke-width:1.3" d="M158 658L240 690Q250 705 234 726L155 700Z"/>
<ellipse class="s" cx="236" cy="708" rx="9" ry="17" transform="rotate(-15 236 708)"/>
</g>
<use href="#stud14" transform="translate(215 -110)"/>
<!-- bolt 16 -->
<path class="s" d="M320 685L392 720"/>
<path class="sf" style="stroke-width:1.3" d="M408 715L482 748L470 780L398 745Q394 725 408 715Z"/>
<ellipse class="sf" style="stroke-width:1.6" cx="492" cy="774" rx="24" ry="32" transform="rotate(-15 492 774)"/>
<path class="s" d="M480 760L505 788M505 758L482 790"/>
<!-- item 15 -->
<path class="sf" style="stroke-width:1.3" d="M588 960V880L655 848V830L790 765V782L858 745L866 768L832 788Q818 800 832 810L864 798L868 825L802 858V868L668 932V948L640 960V905Q640 890 625 895L612 902V960Z"/>
<path class="s" d="M655 848L668 932M790 782L802 858M668 850L798 788"/>
<!-- item 23 -->
<path class="sf" style="stroke-width:1.4" d="M555 340L617 296L702 258L828 212L986 286V420L713 563L555 482Z"/>
<path class="s" style="stroke-width:1.4" d="M713 413L820 352L986 286M713 413V563M820 352V509"/>
<path class="s" d="M761 376Q805 352 817 330M732 244L884 322M760 232L905 305M858 333L884 322"/>
<path class="k" d="M702 258L732 244L884 322L858 333Z"/>
<path class="s" style="stroke:#fff;stroke-width:0.6" d="M712 257L866 331M722 252L876 327"/>
<path class="s" style="stroke-width:0.8" d="M890 326L975 292M892 331L977 297M894 336L978 302"/>
<ellipse class="s" style="stroke-width:1.4" cx="914" cy="357" rx="10" ry="12" transform="rotate(20 914 357)"/><ellipse class="s" style="stroke-width:1.4" cx="858" cy="451" rx="10" ry="12" transform="rotate(20 858 451)"/>
<!-- terminal block top -->
<path class="k" d="M558 338L617 296L761 376L713 413L640 378L600 400L558 380Z"/>
<path class="w" d="M640 312L672 330L650 342L618 325ZM690 340L722 357L700 370L668 352ZM600 340L625 353L608 362L585 350ZM655 360L690 378L675 388L640 370Z"/>
<path class="s" style="stroke-width:1.5" d="M560 345V480M575 392L713 460M600 400V470M560 420L600 440"/>
<path class="k" d="M560 380L600 400V440L560 420Z"/>
<!-- studs / terminals -->
<path class="sf" style="stroke-width:1.3" d="M420 452L500 418Q515 430 508 452L430 482L405 478Q392 465 405 455Z"/>
<path class="s" d="M430 450Q440 465 432 480"/>
<ellipse class="k" cx="532" cy="458" rx="30" ry="36"/><ellipse class="sf" style="stroke-width:1" cx="526" cy="462" rx="15" ry="19"/>
<ellipse class="k" cx="612" cy="492" rx="27" ry="30"/><ellipse class="sf" style="stroke-width:1" cx="608" cy="496" rx="12" ry="15"/>
<ellipse class="k" cx="672" cy="468" rx="32" ry="38"/><path class="s" style="stroke:#fff;stroke-width:0.9" d="M655 445Q690 450 695 485M648 462Q675 468 682 498"/>
<path class="sf" style="stroke-width:1.3" d="M605 552L690 518Q705 530 698 552L615 580L592 576Q580 565 592 555Z"/>
<path class="s" d="M612 552Q622 566 615 580"/>
</g>
<use href="#bolt22" transform="translate(918.1 51.1) scale(0.14773)"/>

<g transform="translate(1130 300) scale(0.16878)">
<path class="sf" style="stroke-width:1.6" d="M150 278Q150 268 160 263L410 132Q420 128 430 133L462 150Q470 155 470 165V585Q470 595 460 600L218 742Q210 746 200 742L158 720Q150 716 150 706Z"/>
<path class="s" style="stroke-width:1.3" d="M182 300Q182 290 192 285L440 158M182 300V722M165 272V712M200 296V690M192 285L215 298"/>
<path class="s" d="M262 265V640M290 275V632M275 262V640M262 265L300 245M215 298L250 280"/>
<path class="s" style="stroke-width:1.3" d="M318 292L352 272V455L318 475Z"/>
<ellipse class="s" style="stroke-width:1.3" cx="335" cy="515" rx="22" ry="29" transform="rotate(15 335 515)"/>
<circle class="k" cx="320" cy="568" r="6"/>
<path class="k" d="M375 268L440 232L456 330L445 535L390 558L386 300Z"/>
<path class="s" style="stroke:#fff;stroke-width:0.6" d="M392 290L398 545M404 282L410 540M416 276L422 535M428 270L434 530M440 262L445 525"/>
<path class="s" style="stroke-width:1.3" d="M300 232L375 195L395 205V225L320 262Z"/>
<path class="s" d="M330 235L380 210"/>
<g class="s" style="stroke-width:1.4"><ellipse cx="222" cy="318" rx="12" ry="16"/><ellipse cx="226" cy="380" rx="10" ry="14"/><ellipse cx="450" cy="202" rx="12" ry="16"/><ellipse cx="448" cy="583" rx="12" ry="16"/><ellipse cx="222" cy="695" rx="12" ry="16"/></g>
<g class="s" style="stroke-width:0.8"><ellipse cx="222" cy="318" rx="6" ry="9"/><ellipse cx="450" cy="202" rx="6" ry="9"/><ellipse cx="448" cy="583" rx="6" ry="9"/><ellipse cx="222" cy="695" rx="6" ry="9"/></g>
<path class="s" style="stroke-width:2.2" d="M265 678L440 588"/>
<path class="s" d="M265 665L430 580M262 640L290 632M265 690L445 600"/>
<path class="s" style="stroke-width:1.3" d="M185 548L235 528V640L185 660Z"/>
<path class="s" d="M195 565H222M195 585H222M195 605H222M195 625H222M210 545V650"/>
<path class="s" d="M440 158L462 170M420 175L462 195M395 560L445 540"/>
<!-- bolt 19 -->
<path class="sf" style="stroke-width:1.3" d="M440 795L505 823L497 843L433 815Q432 803 440 795Z"/>
<ellipse class="k" cx="516" cy="838" rx="20" ry="25" transform="rotate(-20 516 838)"/>
<path class="s" style="stroke:#fff;stroke-width:0.6" d="M506 830L526 846M524 828L508 848"/>
<path class="c" style="stroke-dasharray:10.5 8" d="M272 722L420 795"/>
</g>

<g transform="translate(1135 100) scale(0.09658)">
<path class="s" style="stroke-width:1.3" d="M350 260Q500 255 645 395M350 282Q490 285 628 415"/>
<path class="s" style="stroke-width:1.3" d="M640 395Q700 335 805 352Q850 395 900 475L1025 488M632 412Q710 365 795 372Q838 415 888 492L1020 505"/>
<path class="s" d="M635 412Q680 480 740 508L810 545M650 440Q700 500 780 540M730 510L770 575M745 515L800 530"/>
<!-- left connector -->
<path class="sf" style="stroke-width:1.6" d="M98 222L140 140L282 140L350 268L290 282L130 288Z"/>
<path class="k" d="M98 222L140 140L170 145L150 220L165 280L130 288Z"/>
<path class="s" style="stroke-width:1.5" d="M170 160H280M165 190H290M160 225H300M180 262L290 258M282 140L300 230L350 268M270 240L300 230"/>
<path class="k" d="M268 235L300 228L320 262L285 272Z"/>
<!-- mid connector -->
<path class="sf" style="stroke-width:1.5" d="M770 578L850 520L962 600L952 650L890 692L775 632Z"/>
<path class="k" d="M825 540L850 520L962 600L952 650L890 692L840 665L845 605Z"/>
<path class="s" style="stroke:#fff;stroke-width:0.7" d="M870 560L862 668M900 580L895 680M930 600L925 665M850 610L950 655"/>
<!-- right connector -->
<path class="sf" style="stroke-width:1.5" d="M1022 465L1190 448L1222 500L1212 552L1045 588L1020 540Z"/>
<path class="k" d="M1110 455L1190 448L1222 500L1212 552L1045 588L1035 560L1115 540Z"/>
<path class="s" style="stroke:#fff;stroke-width:0.7" d="M1130 470L1200 462M1125 500L1212 488M1120 525L1210 515M1060 570L1200 540"/>
<path class="s" d="M1022 465L1030 540L1045 588M1030 540L1115 525"/>
</g>

<g transform="translate(730 210) scale(0.08443)">
<path class="sf" style="stroke-width:1.4" d="M505 515L645 578L620 648L482 585Q470 550 505 515Z"/>
<path class="s" style="stroke-width:1.8" d="M505 515Q478 540 482 585"/>
<ellipse class="sf" style="stroke-width:1.6" cx="655" cy="632" rx="40" ry="62" transform="rotate(20 655 632)"/>
<ellipse class="sf" style="stroke-width:1.6" cx="690" cy="620" rx="38" ry="58" transform="rotate(20 690 620)"/>
<ellipse class="s" cx="698" cy="622" rx="26" ry="44" transform="rotate(20 698 622)"/>
</g>

<g id="cover">
<path class="dk" d="M975.7 531.5Q975.5 526.5 971 526.8L702 661.5Q698 664 698 669V940"/>
<path class="d" d="M975.7 531.5V799Q975.7 804 971.5 806.5L702 941.5Q698.2 943.5 698 940"/>
<path class="s" style="stroke-width:1.5" d="M698 669Q698 664 702 661.5M971 526.8Q975.5 526.5 975.7 531.5M975.7 799Q975.7 804 971.5 806.5M698 938Q698 944 702.5 941.5"/>
<g class="k">
<ellipse cx="705.6" cy="668" rx="1.6" ry="1.9" transform="rotate(20 705.6 668)"/>
<ellipse cx="786.6" cy="628.3" rx="1.6" ry="1.9" transform="rotate(20 786.6 628.3)"/>
<ellipse cx="887.2" cy="578" rx="1.6" ry="1.9" transform="rotate(20 887.2 578)"/>
<ellipse cx="968.2" cy="537.8" rx="1.6" ry="1.9" transform="rotate(20 968.2 537.8)"/>
<ellipse cx="969.6" cy="664.4" rx="1.6" ry="1.9" transform="rotate(20 969.6 664.4)"/>
<ellipse cx="969.5" cy="791.6" rx="1.6" ry="1.9" transform="rotate(20 969.5 791.6)"/>
<ellipse cx="704.3" cy="796.5" rx="1.6" ry="1.9" transform="rotate(20 704.3 796.5)"/>
<ellipse cx="887.3" cy="844" rx="1.6" ry="1.9" transform="rotate(20 887.3 844)"/>
<ellipse cx="786.4" cy="894" rx="1.6" ry="1.9" transform="rotate(20 786.4 894)"/>
<ellipse cx="704.3" cy="924.5" rx="1.6" ry="1.9" transform="rotate(20 704.3 924.5)"/>
</g>
<g transform="translate(940 510) scale(0.09658)">
<path class="s" d="M300 292L372 326"/>
<path class="c2" d="M445 362L1040 660"/>
<path class="sf" style="stroke-width:1.4" d="M1072 668L1235 742L1212 800L1052 726Q1038 700 1050 680Q1058 664 1072 668Z"/>
<ellipse class="sf" style="stroke-width:1.5" cx="1254" cy="780" rx="42" ry="62" transform="rotate(18 1254 780)"/>
<ellipse class="s" style="stroke-width:1.4" cx="1252" cy="782" rx="26" ry="40" transform="rotate(18 1252 782)"/>
<ellipse class="s" cx="1252" cy="782" rx="11" ry="19" transform="rotate(18 1252 782)"/>
<path class="s" style="stroke-width:1.6" d="M1072 668Q1052 672 1050 700Q1048 718 1055 726"/>
</g>
</g>

<g id="labels" transform="translate(0 -0.5)">
<text x="199.9" y="320.4">2</text><path class="l" d="M206.5 312.2H231.7"/>
<text x="239.8" y="222.3">3</text><path class="l" d="M246.4 213.9H272.4"/>
<text x="285.8" y="176.6">4</text><path class="l" d="M292.1 168.3H316.7"/>
<text x="342" y="116.5">5</text><path class="l" d="M348.6 108.3H373.7"/>
<text x="512.2" y="99.2">6</text><path class="l" d="M480.9 90.6H504.5"/>
<text x="419" y="198.8">7</text><path class="l" d="M426.2 190.8H450.5"/>
<text x="572.7" y="465.3">8</text><path class="l" d="M579.4 456.2H605"/>
<text x="902.5" y="483.5">9</text><path class="l" d="M902 442.3V466"/>
<text x="953.6" y="499.7">10</text><path class="l" d="M952 459.2V482.8"/>
<text x="859" y="348.5">11</text><path class="l" d="M870.2 340.4H892.8"/>
<text x="872.4" y="118.2">12</text><path class="l" d="M883.6 109.7H907.9"/>
<text x="994.8" y="287">12</text><path class="l" d="M959.5 278.5H983.2"/>
<text x="764" y="96.2">13</text><path class="l" d="M763.7 97.9V123.2"/>
<text x="1042.5" y="349.3">14</text><path class="l" d="M1042.9 309.8V332.8"/>
<text x="1109.2" y="382.4">15</text><path class="l" d="M1108.7 336.8V365.5"/>
<text x="1084.2" y="356.1">16</text><path class="l" d="M1083.4 317.3V339.5"/>
<text x="1161.3" y="466">17</text><path class="l" d="M1160.2 425.4V449.1"/>
<text x="783" y="229.6">18</text><path class="l" d="M782.3 230.2V255.9"/>
<text x="1209.5" y="482.2">19</text><path class="l" d="M1209.2 444V465.3"/>
<text x="799.2" y="77.7">20</text><path class="l" d="M800.5 78.3V103"/>
<text x="1186.9" y="101.2">21</text><path class="l" d="M1186.3 102.2V124.8"/>
<text x="896.4" y="79.3">22</text><path class="l" d="M908.9 70.9H933.2"/>
<text x="1068.7" y="229.6">22</text><path class="l" d="M1043 221.8H1057.5"/>
<text x="1140" y="206.9">23</text><path class="l" d="M1139.1 207.9V232.2"/>
<text x="1048.3" y="625.6">1</text><path class="l" d="M1050 586V609.7"/>
<circle class="sf" cx="706.3" cy="223.8" r="11.3"/><text x="706.3" y="230.6" style="font-weight:normal;font-size:20px;stroke:#000;stroke-width:0.45px">A</text>
<circle class="sf" cx="325.9" cy="674.6" r="11.3"/><text x="325.9" y="681.4" style="font-weight:normal;font-size:20px;stroke:#000;stroke-width:0.45px">A</text>
<text x="1285.7" y="932.4" style="stroke:#000;stroke-width:0.55px" textLength="100.5" lengthAdjust="spacingAndGlyphs">fig5330002900</text>
</g>

</svg>
</body></html>
